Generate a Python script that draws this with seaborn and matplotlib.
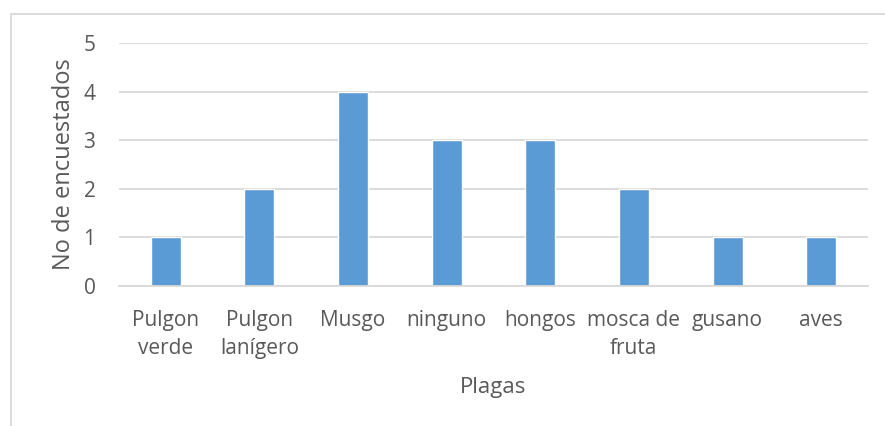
import matplotlib
matplotlib.use("Agg")
import matplotlib.pyplot as plt
import seaborn as sns
import pandas as pd
from matplotlib.patches import Rectangle

categories = ["Pulgon\nverde", "Pulgon\nlanígero", "Musgo", "ninguno", "hongos",
              "mosca de\nfruta", "gusano", "aves"]
values = [1, 2, 4, 3, 3, 2, 1, 1]
yticks = [0, 1, 2, 3, 4, 5]

sns.set_theme(style="white")
plt.rcParams['font.family'] = ['Open Sans', 'DejaVu Sans']

df = pd.DataFrame({"Plagas": categories, "n": values})

fig = plt.figure(figsize=(8.85, 4.26), dpi=100)
fig.patch.set_facecolor("white")
ax = fig.add_axes([119/885, 1-286/426, (868-119)/885, (286-43)/426])

sns.barplot(data=df, x="Plagas", y="n", color="#5B9BD5", width=0.32,
            saturation=1, ax=ax, zorder=3)

ax.set_ylim(0, 5)
ax.set_xlim(-0.5, len(categories)-0.5)
ax.set_yticks(yticks)
ax.yaxis.grid(True, color="#D9D9D9", linewidth=1.3, zorder=0)
ax.xaxis.grid(False)
for s in ["left", "right", "top"]:
    ax.spines[s].set_visible(False)
ax.spines["bottom"].set_color("#D9D9D9")
ax.spines["bottom"].set_linewidth(1.3)
ax.spines["bottom"].set_zorder(4)
ax.tick_params(axis="both", length=0, labelsize=15, colors="#595959")
ax.tick_params(axis="x", pad=17)
ax.tick_params(axis="y", pad=17)
for lbl in ax.get_xticklabels():
    lbl.set_linespacing(1.45)
ax.set_xlabel("Plagas", fontsize=16, color="#595959", labelpad=13)
ax.set_ylabel("No de encuestados", fontsize=17, color="#595959", labelpad=5)

fig.patches.append(Rectangle((11/885, -0.1), 1.2, 1-14/426+0.1, transform=fig.transFigure,
                             fill=False, edgecolor="#D9D9D9", linewidth=1.3))

fig.savefig("out.png", dpi=100)
